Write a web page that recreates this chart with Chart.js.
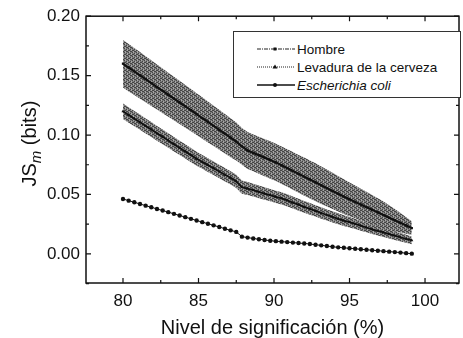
<!DOCTYPE html>
<html>
<head>
<meta charset="utf-8">
<script src="https://cdn.jsdelivr.net/npm/chart.js@4.4.1/dist/chart.umd.min.js"></script>
<style>
  html, body { margin: 0; padding: 0; background: #fff; }
  #wrap { position: relative; width: 463px; height: 338px; }
  #legend {
    position: absolute; left: 233px; top: 31px; width: 228px; height: 67px;
    border: 1px solid #333; box-sizing: border-box; background: #fff;
    font-family: "Liberation Sans", Arial, sans-serif; font-size: 13.5px; color: #111;
  }
  .item { position: absolute; left: 22px; height: 16px; display: flex; align-items: center; }
  .item svg { margin-right: 1px; }
</style>
</head>
<body>
<div id="wrap">
  <canvas id="c" width="463" height="338"></canvas>
  <div id="legend">
    <div class="item" style="top:9px">
      <svg width="40" height="10"><line x1="1" y1="5" x2="39" y2="5" stroke="#222" stroke-width="1.2" stroke-dasharray="4,1,1,1"/><rect x="17.5" y="3.5" width="3" height="3" fill="#111"/></svg>
      <span>Hombre</span>
    </div>
    <div class="item" style="top:27px">
      <svg width="40" height="10"><line x1="1" y1="5" x2="39" y2="5" stroke="#222" stroke-width="1.2" stroke-dasharray="1,1"/><polygon points="19,2.5 21.5,6.5 16.5,6.5" fill="#111"/></svg>
      <span>Levadura de la cerveza</span>
    </div>
    <div class="item" style="top:45px">
      <svg width="40" height="10"><line x1="1" y1="5" x2="39" y2="5" stroke="#111" stroke-width="1.3"/><circle cx="19" cy="5" r="2" fill="#111"/></svg>
      <span style="font-style:italic">Escherichia coli</span>
    </div>
  </div>
</div>
<script>
// ---- data ----
const nivel = [80, 80.375, 80.75, 81.125, 81.5, 81.875, 82.25, 82.625, 83, 83.375, 83.75, 84.125, 84.5, 84.875,
  85.25, 85.625, 86, 86.375, 86.75, 87.125, 87.5, 87.875, 88.25, 88.625, 89, 89.375, 89.75, 90.125, 90.5, 90.875,
  91.25, 91.625, 92, 92.375, 92.75, 93.125, 93.5, 93.875, 94.25, 94.625, 95, 95.375, 95.75, 96.125, 96.5, 96.875,
  97.25, 97.625, 98, 98.375, 98.75, 99.125];

const hombre = [0.1600, 0.1567, 0.1535, 0.1502, 0.1470, 0.1437, 0.1404, 0.1372, 0.1339, 0.1307, 0.1274, 0.1241, 0.1209, 0.1176,
  0.1143, 0.1110, 0.1077, 0.1044, 0.1011, 0.0978, 0.0945, 0.0905, 0.0870, 0.0850, 0.0830, 0.0810, 0.0790, 0.0770, 0.0746, 0.0722,
  0.0698, 0.0674, 0.0650, 0.0626, 0.0602, 0.0578, 0.0554, 0.0530, 0.0506, 0.0482, 0.0459, 0.0437, 0.0415, 0.0393, 0.0371, 0.0349,
  0.0327, 0.0305, 0.0283, 0.0261, 0.0239, 0.0217];
const hombreErr = [0.020, 0.020, 0.0198, 0.0196, 0.0194, 0.0192, 0.019, 0.0188, 0.0186, 0.0184, 0.0182, 0.018, 0.0178, 0.0176,
  0.0174, 0.0172, 0.017, 0.0168, 0.0166, 0.0164, 0.016, 0.0155, 0.0155, 0.0155, 0.0156, 0.0156, 0.0157, 0.0157, 0.0158, 0.0158,
  0.0159, 0.0159, 0.016, 0.016, 0.016, 0.0158, 0.0155, 0.0152, 0.0149, 0.0146, 0.0142, 0.0138, 0.0134, 0.013, 0.0125, 0.012,
  0.0113, 0.0104, 0.0094, 0.0082, 0.007, 0.0057, 0.0042];

const levadura = [0.1200, 0.1169, 0.1138, 0.1108, 0.1077, 0.1046, 0.1015, 0.0985, 0.0954, 0.0923, 0.0892, 0.0862, 0.0831, 0.0800,
  0.0774, 0.0747, 0.0720, 0.0693, 0.0666, 0.0640, 0.0610, 0.0562, 0.0550, 0.0536, 0.0522, 0.0508, 0.0494, 0.0480, 0.0467, 0.0450,
  0.0432, 0.0414, 0.0396, 0.0379, 0.0362, 0.0344, 0.0327, 0.0311, 0.0295, 0.0280, 0.0267, 0.0252, 0.0237, 0.0222, 0.0207, 0.0193,
  0.0180, 0.0166, 0.0153, 0.0140, 0.0127, 0.0114];
const levaduraErr = [0.0065, 0.0065, 0.0064, 0.0064, 0.0063, 0.0063, 0.0062, 0.0062, 0.0061, 0.0061, 0.0060, 0.0060, 0.0059, 0.0059,
  0.0058, 0.0058, 0.0057, 0.0057, 0.0056, 0.0056, 0.0055, 0.0055, 0.0054, 0.0054, 0.0053, 0.0053, 0.0052, 0.0052, 0.0051, 0.0051,
  0.0050, 0.0050, 0.0049, 0.0049, 0.0048, 0.0048, 0.0047, 0.0047, 0.0046, 0.0045, 0.0044, 0.0043, 0.0042, 0.0041, 0.0040, 0.0039,
  0.0038, 0.0037, 0.0036, 0.0035, 0.0034, 0.0033];

const ecoli = [0.0462, 0.0448, 0.0434, 0.0420, 0.0406, 0.0392, 0.0378, 0.0365, 0.0351, 0.0337, 0.0323, 0.0309, 0.0295, 0.0281,
  0.0267, 0.0254, 0.0240, 0.0226, 0.0212, 0.0198, 0.0185, 0.0145, 0.0137, 0.0130, 0.0123, 0.0117, 0.0111, 0.0107, 0.0103, 0.0099,
  0.0095, 0.0091, 0.0088, 0.0083, 0.0077, 0.0072, 0.0066, 0.0060, 0.0055, 0.0051, 0.0047, 0.0043, 0.0039, 0.0035, 0.0031, 0.0027,
  0.0023, 0.0019, 0.0015, 0.0011, 0.0006, 0.0002];

const xTicks = [80, 85, 90, 95, 100];
const yTicks = [0.00, 0.05, 0.10, 0.15, 0.20];
const xMinor = [82.5, 87.5, 92.5, 97.5];
const yMinor = [-0.025, 0.025, 0.075, 0.125, 0.175];

// ---- helpers ----
const pts = (arr) => arr.map((v, i) => ({ x: nivel[i], y: v }));
const band = (arr, err, sign) => arr.map((v, i) => ({ x: nivel[i], y: v + sign * err[i] }));

function halftone() {
  const p = document.createElement('canvas');
  p.width = 4; p.height = 4;
  const g = p.getContext('2d');
  g.fillStyle = '#7a7a7a'; g.fillRect(0, 0, 4, 4);
  g.fillStyle = '#454545';
  [[0,0],[2,1],[1,2],[3,3],[2,3],[0,2]].forEach(([a, b]) => g.fillRect(a, b, 1, 1));
  g.fillStyle = '#a6a6a6';
  [[1,0],[3,1],[3,2],[1,3]].forEach(([a, b]) => g.fillRect(a, b, 1, 1));
  return document.getElementById('c').getContext('2d').createPattern(p, 'repeat');
}
const pat = halftone();

const FONT = '"Liberation Sans", Arial, sans-serif';

const framePlugin = {
  id: 'frame',
  afterDraw(chart) {
    const { ctx, chartArea: a, scales: { x, y } } = chart;
    ctx.save();
    ctx.strokeStyle = '#111';
    ctx.lineWidth = 1.5;
    ctx.strokeRect(a.left, a.top, a.right - a.left, a.bottom - a.top);
    ctx.lineWidth = 1.2;
    ctx.beginPath();
    const tx = (v, len) => { const p = x.getPixelForValue(v); ctx.moveTo(p, a.bottom); ctx.lineTo(p, a.bottom - len); ctx.moveTo(p, a.top); ctx.lineTo(p, a.top + len); };
    const ty = (v, len) => { const p = y.getPixelForValue(v); ctx.moveTo(a.left, p); ctx.lineTo(a.left + len, p); ctx.moveTo(a.right, p); ctx.lineTo(a.right - len, p); };
    xTicks.forEach(v => tx(v, 5)); xMinor.forEach(v => tx(v, 3));
    yTicks.forEach(v => ty(v, 5)); yMinor.forEach(v => ty(v, 3));
    ctx.stroke();
    // y-axis title with subscript
    ctx.translate(30, (a.top + a.bottom) / 2 - 6);
    ctx.rotate(-Math.PI / 2);
    ctx.fillStyle = '#111';
    ctx.textBaseline = 'middle';
    const f1 = '20px ' + FONT, f2 = 'italic 15px ' + FONT;
    ctx.font = f1; const w1 = ctx.measureText('JS').width; const w3 = ctx.measureText(' (bits)').width;
    ctx.font = f2; const w2 = ctx.measureText('m').width;
    let sx = -(w1 + w2 + w3) / 2;
    ctx.font = f1; ctx.fillText('JS', sx, 0); sx += w1;
    ctx.font = f2; ctx.fillText('m', sx, 7); sx += w2;
    ctx.font = f1; ctx.fillText(' (bits)', sx, 0);
    ctx.restore();
  }
};

new Chart(document.getElementById('c'), {
  type: 'line',
  data: {
    datasets: [
      { label: 'Hombre', data: pts(hombre), borderColor: '#111', borderWidth: 2.2, pointRadius: 1.6, pointBackgroundColor: '#111', pointBorderWidth: 0, pointStyle: 'rect', fill: false },
      { label: 'Levadura de la cerveza', data: pts(levadura), borderColor: '#111', borderWidth: 1.8, pointRadius: 1.8, pointBackgroundColor: '#111', pointBorderWidth: 0, pointStyle: 'triangle', fill: false },
      { label: 'Escherichia coli', data: pts(ecoli), borderColor: '#111', borderWidth: 1, pointRadius: 2.2, pointBackgroundColor: '#111', pointBorderWidth: 0, fill: false },
      { label: 'h+', data: band(hombre, hombreErr, 1), borderWidth: 0, pointRadius: 0, backgroundColor: pat, fill: '+1' },
      { label: 'h-', data: band(hombre, hombreErr, -1), borderWidth: 0, pointRadius: 0, fill: false },
      { label: 'l+', data: band(levadura, levaduraErr, 1), borderWidth: 0, pointRadius: 0, backgroundColor: pat, fill: '+1' },
      { label: 'l-', data: band(levadura, levaduraErr, -1), borderWidth: 0, pointRadius: 0, fill: false }
    ]
  },
  options: {
    responsive: false,
    animation: false,
    devicePixelRatio: 1,
    layout: { padding: { top: 16, right: 1, left: 0, bottom: 0 } },
    plugins: { legend: { display: false }, tooltip: { enabled: false } },
    scales: {
      x: {
        type: 'linear', min: 77.55, max: 102.25,
        afterBuildTicks: (s) => { s.ticks = xTicks.map(v => ({ value: v })); },
        afterFit: (s) => { s.height = 55; },
        grid: { display: false, drawTicks: false },
        border: { display: false },
        ticks: { color: '#111', font: { family: FONT, size: 17 }, padding: 8, maxRotation: 0, callback: (v) => String(v) },
        title: { display: true, text: 'Nivel de significación (%)', color: '#111', font: { family: FONT, size: 20, lineHeight: 1.0 }, padding: { top: 0, bottom: 0 } }
      },
      y: {
        type: 'linear', min: -0.0245, max: 0.20,
        afterBuildTicks: (s) => { s.ticks = yTicks.map(v => ({ value: v })); },
        afterFit: (s) => { s.width = 86; },
        grid: { display: false, drawTicks: false },
        border: { display: false },
        ticks: { color: '#111', font: { family: FONT, size: 17 }, padding: 6, callback: (v) => v.toFixed(2) }
      }
    }
  },
  plugins: [framePlugin]
});
</script>
</body>
</html>
